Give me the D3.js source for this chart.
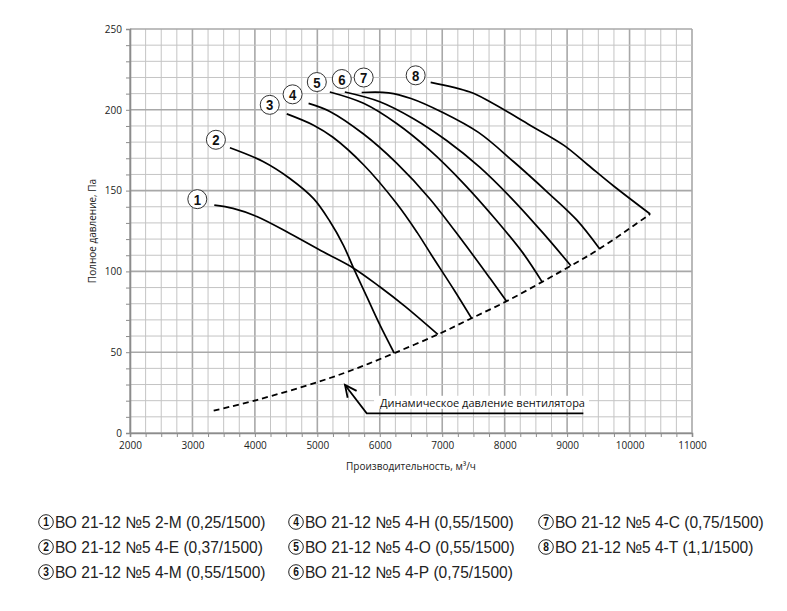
<!DOCTYPE html>
<html><head><meta charset="utf-8">
<script src="https://cdn.jsdelivr.net/npm/d3@7"></script>
<style>body{margin:0;background:#fff}</style>
</head><body>
<svg id="c" width="787" height="611" xmlns="http://www.w3.org/2000/svg"></svg>
<script>
// ---------- data ----------
const xTicks = [2000,3000,4000,5000,6000,7000,8000,9000,10000,11000];
const yTicks = [0,50,100,150,200,250];
const curveNumbers = ["1","2","3","4","5","6","7","8"];
const legendLabels = [
  "ВО 21-12 №5 2-М (0,25/1500)",
  "ВО 21-12 №5 4-Е (0,37/1500)",
  "ВО 21-12 №5 4-М (0,55/1500)",
  "ВО 21-12 №5 4-Н (0,55/1500)",
  "ВО 21-12 №5 4-О (0,55/1500)",
  "ВО 21-12 №5 4-Р (0,75/1500)",
  "ВО 21-12 №5 4-С (0,75/1500)",
  "ВО 21-12 №5 4-Т (1,1/1500)"
];
const xTitle = "Производительность, м³/ч";
const yTitle = "Полное давление, Па";
const dynLabel = "Динамическое давление вентилятора";

const q1 = [3350,3650,4030,4560,5100,5580,6000,6400,6930];
const p1 = [141,139,134,123.5,112,102,90.5,78.5,61];
const q2 = [3600,4130,4560,4940,5200,5420,5580,5790,6000,6230];
const p2 = [176.5,168,157.5,145,131,116,102,84.5,67,49.5];
const q3 = [4510,4940,5250,5740,6270,6600,6830,7190,7470];
const p3 = [197.5,190.5,183,166,142,124,110,88.5,71];
const q4 = [4860,5200,5740,6270,6800,7340,7760,8030];
const p4 = [204,199,185,167,145,118,96,81.5];
const q5 = [5200,5740,6270,6800,7340,7870,8300,8600];
const p5 = [211,204,191.5,175,154.5,131.5,111,93.5];
const q6 = [5440,6000,6540,7070,7600,8140,8620,9060];
const p6 = [211,205,194.5,181,164.5,144,123.5,103.5];
const q7 = [5710,6140,6500,7000,7580,8140,8700,9150,9520];
const p7 = [210.7,210.5,207,198.5,186,168,148.5,132,114];
const q8 = [6815,7445,7765,8406,8950,9330,9740,10330];
const p8 = [217,211,205,190.5,178,166,153,135.5];

const dynQ = [3340,4030,5020,5630,6230,6930,7470,8030,8600,9060,9520,10330];
const dynP = [13.8,20.4,31.7,40,49.4,61,71,81.5,93.5,103.5,114,135.5];

// annotation anchors (data units)
const arrowTip = [5443, 29.7];
const arrowElbow = [5791, 12.2];
const arrowEnd = [9260, 12.2];
const dynTextAt = [6004, 18.6];

// ---------- layout ----------
const svg = d3.select("#c");
const x = d3.scaleLinear().domain([2000, 11000]).range([130, 692]);
const y = d3.scaleLinear().domain([0, 250]).range([433, 29]);
const tickFont = "'Open Sans', 'DejaVu Sans', sans-serif";
const narrowFont = "'Liberation Sans Narrow', 'Liberation Sans', Arial, sans-serif";

// grid
const gx = d3.range(2000, 11001, 250);
const gy = d3.range(0, 251, 10);
const grid = svg.append("g");
grid.selectAll("line.v").data(gx).join("line")
  .attr("x1", d => x(d)).attr("x2", d => x(d))
  .attr("y1", y(0)).attr("y2", y(250))
  .attr("stroke", d => d % 1000 === 0 ? "#a8a8a8" : "#c4c4c4")
  .attr("stroke-width", d => d % 1000 === 0 ? 1.6 : 1);
grid.selectAll("line.h").data(gy).join("line")
  .attr("y1", d => y(d)).attr("y2", d => y(d))
  .attr("x1", x(2000)).attr("x2", x(11000))
  .attr("stroke", d => d % 50 === 0 ? "#a8a8a8" : "#c4c4c4")
  .attr("stroke-width", d => d % 50 === 0 ? 1.6 : 1);

// axes
const xAxis = d3.axisBottom(x).tickValues(gx).tickSize(4)
  .tickFormat(d => xTicks.includes(d) ? String(d) : "");
const yAxis = d3.axisLeft(y).tickValues(gy).tickSize(4)
  .tickFormat(d => yTicks.includes(d) ? String(d) : "");
const gxa = svg.append("g").attr("transform", `translate(0,${y(0)})`).call(xAxis);
const gya = svg.append("g").attr("transform", `translate(${x(2000)},0)`).call(yAxis);
[gxa, gya].forEach(g => {
  g.select(".domain").attr("stroke", "#8c8c8c").attr("stroke-width", 1.6);
  g.selectAll(".tick line").attr("stroke", "#8c8c8c");
  g.selectAll(".tick text").attr("font-family", tickFont).attr("font-size", 10).attr("fill", "#222");
});
gxa.selectAll(".tick text").attr("dy", "0.9em");
gya.selectAll(".tick text").attr("dx", "-1");

// axis titles
svg.append("text").attr("x", (x(2000) + x(11000)) / 2).attr("y", 470)
  .attr("text-anchor", "middle").attr("font-family", tickFont).attr("font-size", 10).attr("fill", "#222")
  .text(xTitle);
svg.append("text").attr("transform", `translate(96,${(y(0) + y(250)) / 2}) rotate(-90)`)
  .attr("text-anchor", "middle").attr("font-family", tickFont).attr("font-size", 10).attr("fill", "#222")
  .text(yTitle);

// dynamic pressure dashed line
const line = d3.line().x(d => x(d[0])).y(d => y(d[1])).curve(d3.curveCatmullRom.alpha(0.5));
svg.append("path").datum(d3.zip(dynQ, dynP)).attr("d", line)
  .attr("fill", "none").attr("stroke", "#000").attr("stroke-width", 1.8)
  .attr("stroke-dasharray", "6,4");

// fan curves
const series = [[q1,p1],[q2,p2],[q3,p3],[q4,p4],[q5,p5],[q6,p6],[q7,p7],[q8,p8]];
svg.append("g").selectAll("path").data(series).join("path")
  .attr("d", s => line(d3.zip(s[0], s[1])))
  .attr("fill", "none").attr("stroke", "#000").attr("stroke-width", 1.7);

// curve labels
const labelOffsets = [[-17,-6],[-14,-8],[-17,-9],[-16,-9],[-13,-10],[-3,-13],[2,-15],[-15,-7]];
const lab = svg.append("g").selectAll("g").data(series).join("g")
  .attr("transform", (s, i) => `translate(${x(s[0][0]) + labelOffsets[i][0]},${y(s[1][0]) + labelOffsets[i][1]})`);
lab.append("circle").attr("r", 9.5).attr("fill", "#fff").attr("stroke", "#333").attr("stroke-width", 1);
lab.append("text").attr("text-anchor", "middle").attr("dy", "0.36em")
  .attr("font-family", narrowFont).attr("font-weight", "bold").attr("font-size", 15.5).attr("fill", "#111")
  .attr("transform", "scale(0.85,1)")
  .text((s, i) => curveNumbers[i]);

// annotation
const tip = [x(arrowTip[0]), y(arrowTip[1])];
const elb = [x(arrowElbow[0]), y(arrowElbow[1])];
const end = [x(arrowEnd[0]), y(arrowEnd[1])];
const annG = svg.append("g");
const bgRect = annG.append("rect").attr("fill", "#fff");
const tx = annG.append("text").attr("x", x(dynTextAt[0])).attr("y", y(dynTextAt[1]))
  .attr("dy", "0.35em").attr("font-family", tickFont).attr("font-size", 11).attr("fill", "#111")
  .text(dynLabel);
const bb = tx.node().getBBox();
bgRect.attr("x", bb.x - 6).attr("y", bb.y + 1).attr("width", bb.width + 10).attr("height", bb.height - 2);
annG.append("path").attr("d", `M${end[0]},${end[1]}L${elb[0]},${elb[1]}L${tip[0]},${tip[1]}`)
  .attr("fill", "none").attr("stroke", "#000").attr("stroke-width", 1.8);
const ang = Math.atan2(elb[1] - tip[1], elb[0] - tip[0]);
const aL = 13, aw = 0.45;
annG.append("path").attr("d",
  `M${tip[0] + aL * Math.cos(ang + aw)},${tip[1] + aL * Math.sin(ang + aw)}L${tip[0]},${tip[1]}L${tip[0] + aL * Math.cos(ang - aw)},${tip[1] + aL * Math.sin(ang - aw)}`)
  .attr("fill", "none").attr("stroke", "#000").attr("stroke-width", 1.8);

// legend
const colX = [46, 296, 546];
const rowY = [522, 547, 572];
const targetW = 209;
const leg = svg.append("g").selectAll("g").data(legendLabels).join("g")
  .attr("transform", (d, i) => `translate(${colX[Math.floor(i / 3)]},${rowY[i % 3]})`);
leg.append("circle").attr("r", 7.3).attr("fill", "#fff").attr("stroke", "#222").attr("stroke-width", 1);
leg.append("text").attr("text-anchor", "middle").attr("dy", "0.36em")
  .attr("font-family", narrowFont).attr("font-weight", "bold").attr("font-size", 12).attr("fill", "#111")
  .attr("transform", "scale(0.85,1)")
  .text((d, i) => curveNumbers[i]);
const lt = leg.append("text").attr("x", 0).attr("dy", "0.36em")
  .attr("font-family", "'Liberation Sans', Arial, sans-serif").attr("font-size", 16.5).attr("fill", "#222")
  .text(d => d);
const refW = lt.filter((d, i) => i === 3).node().getComputedTextLength();
const sx = targetW / refW;
lt.attr("transform", `translate(9,0) scale(${sx},1)`);
</script>
</body></html>
